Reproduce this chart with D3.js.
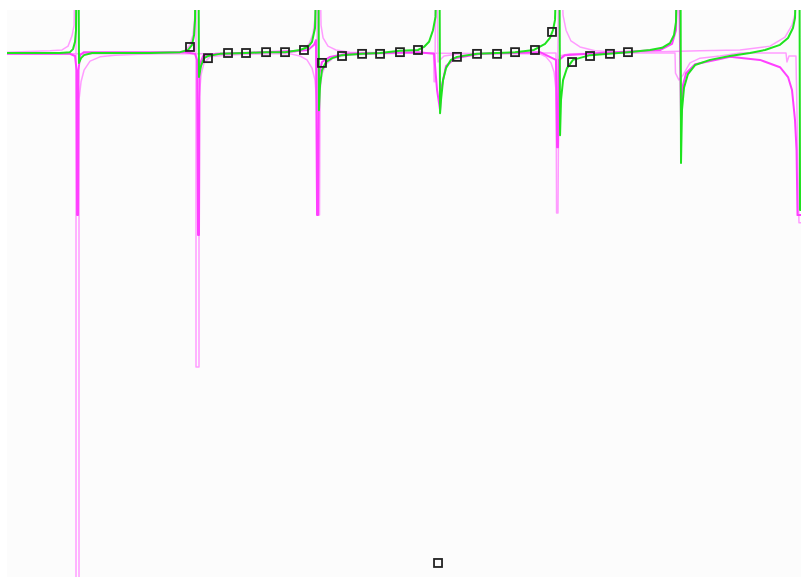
<!DOCTYPE html>
<html>
<head>
<meta charset="utf-8">
<script src="https://cdn.jsdelivr.net/npm/d3@7"></script>
<style>
  html, body { margin: 0; padding: 0; background: #ffffff; }
  svg { display: block; }
</style>
</head>
<body>
<div id="chart"></div>
<script>
// x: normalised frequency (resonances at integer values), y: response (baseline 0)
var TOP = 2, BOT = -12.5;

var greenCurve = [
  [-0.592, 0], [-0.15, 0], [-0.067, 0.02], [-0.042, 0.09], [-0.025, 0.26], [-0.017, 0.53],
  [-0.0125, TOP], [0.004, TOP], [0.008, -0.23], [0.025, -0.12], [0.05, -0.05], [0.117, 0],
  [0.6, 0], [0.85, 0.02], [0.917, 0.07], [0.95, 0.19], [0.967, 0.42], [0.975, 0.77],
  [0.979, TOP], [1.004, TOP], [1.008, -0.56], [1.025, -0.3], [1.05, -0.12], [1.083, -0.07], [1.183, -0.02],
  [1.4, 0], [1.567, 0.02], [1.725, 0.02], [1.85, 0.07], [1.917, 0.14], [1.95, 0.26], [1.975, 0.58],
  [1.9875, TOP], [2.004, TOP], [2.008, -1.33], [2.017, -0.74], [2.033, -0.4], [2.067, -0.21],
  [2.117, -0.12], [2.2, -0.05], [2.367, -0.02],
  [2.517, 0], [2.683, 0.05], [2.833, 0.07], [2.883, 0.14], [2.925, 0.26], [2.958, 0.53], [2.979, 0.84],
  [2.988, TOP], [3.0125, TOP], [3.017, -1.4], [3.025, -1.09], [3.042, -0.63], [3.067, -0.35],
  [3.108, -0.16], [3.158, -0.09], [3.325, -0.02], [3.492, 0],
  [3.642, 0.02], [3.8, 0.07], [3.892, 0.21], [3.933, 0.35], [3.958, 0.53], [3.975, 0.77],
  [3.9875, TOP], [4.0125, TOP], [4.017, -1.91], [4.025, -1.09], [4.042, -0.63], [4.075, -0.35],
  [4.125, -0.16], [4.267, -0.05], [4.583, 0.02],
  [4.767, 0.07], [4.867, 0.12], [4.933, 0.23], [4.967, 0.42], [4.983, 0.72],
  [4.992, TOP], [5.021, TOP], [5.025, -2.56], [5.033, -1.33], [5.05, -0.81], [5.083, -0.49],
  [5.142, -0.28], [5.267, -0.16], [5.433, -0.07], [5.6, 0], [5.725, 0.07], [5.85, 0.19],
  [5.917, 0.35], [5.958, 0.58], [5.975, 0.81],
  [5.988, TOP], [6.0125, TOP], [6.017, -3.65], [6.033, -3.65]
];

var magentaCurve = [
  [-0.592, -0.02], [-0.067, -0.02], [-0.025, -0.07], [-0.0125, -0.4], [-0.008, -3.77], [0, -3.77],
  [0.004, -0.4], [0.017, -0.05], [0.05, 0.02],
  [0.892, 0.02], [0.975, -0.02], [0.992, -0.16], [1.0, -4.23], [1.008, -4.23], [1.0125, -0.28],
  [1.042, -0.07], [1.142, -0.02],
  [1.85, 0.05], [1.917, 0.07], [1.967, 0.19], [1.983, 0.3], [1.992, -3.77], [2.0, -3.77],
  [2.008, -0.51], [2.033, -0.21], [2.1, -0.09], [2.225, -0.02],
  [2.833, 0.02], [2.967, -0.02], [2.992, -0.86], [3.017, -1.33], [3.025, -0.86], [3.067, -0.3],
  [3.142, -0.12], [3.35, -0.02],
  [3.85, 0.02], [3.983, -0.16], [3.992, -2.19], [4.0, -2.19], [4.008, -0.16], [4.058, -0.05], [4.35, 0],
  [4.85, 0.07], [4.95, 0.21], [4.983, 0.53], [4.996, TOP], [5.008, TOP], [5.025, -1.56],
  [5.042, -0.74], [5.067, -0.47], [5.142, -0.26], [5.35, -0.14], [5.433, -0.09], [5.683, -0.16],
  [5.85, -0.33], [5.917, -0.56], [5.95, -0.86], [5.975, -1.56], [5.988, -2.26], [5.996, -3.77],
  [6.004, -3.77], [6.033, -3.77]
];

var pinkCurveA = [
  [-0.592, 0.02], [-0.233, 0.05], [-0.133, 0.07], [-0.083, 0.16], [-0.05, 0.4], [-0.033, 0.65],
  [-0.025, TOP], [-0.017, TOP], [-0.017, BOT], [0.008, BOT], [0.008, -1.09], [0.025, -0.67],
  [0.05, -0.4], [0.1, -0.19], [0.183, -0.09], [0.308, -0.05], [0.6, -0.02],
  [0.85, 0.02], [0.9, 0.07], [0.933, 0.19], [0.958, 0.42], [0.975, 0.88], [0.979, TOP], [0.983, TOP],
  [0.983, -7.3], [1.008, -7.3], [1.008, -1.09], [1.025, -0.51], [1.05, -0.23], [1.1, -0.09], [1.225, -0.05],
  [1.808, 0.02], [1.875, 0.09], [1.925, 0.21], [1.958, 0.44], [1.975, 0.81], [1.983, TOP], [1.992, TOP],
  [1.992, -3.77], [2.0125, -3.77], [2.017, -0.86], [2.033, -0.49], [2.067, -0.26], [2.125, -0.12],
  [2.225, -0.05], [2.517, -0.02],
  [2.833, 0], [2.963, 0], [2.967, -0.67], [2.975, -0.67], [2.979, TOP], [2.9875, TOP], [3.0, -0.21],
  [3.05, -0.07], [3.183, -0.02],
  [3.85, 0], [3.983, 0], [3.988, -3.72], [4.0, -3.72], [4.008, -0.07], [4.1, -0.02],
  [4.683, 0], [4.975, 0], [4.979, -0.47], [5.008, -0.63], [5.042, -0.51], [5.1, -0.23], [5.183, -0.12],
  [5.35, -0.07], [5.517, 0], [5.9, 0], [5.908, -0.21], [5.925, -0.07], [5.983, -0.07],
  [6.008, -3.95], [6.033, -3.95]
];

var pinkCurveB = [
  [-0.592, -0.02], [1.767, -0.02], [1.85, -0.07], [1.908, -0.16], [1.95, -0.35], [1.975, -0.63],
  [1.988, -1.09], [1.992, -1.56], [2.008, TOP], [2.017, TOP], [2.025, 0.65], [2.042, 0.35],
  [2.083, 0.16], [2.15, 0.07], [2.267, 0.02], [2.683, 0],
  [3.85, -0.02], [3.9, -0.09], [3.942, -0.23], [3.967, -0.44], [3.983, -0.86], [3.992, -1.56],
  [4.008, TOP], [4.025, TOP], [4.042, 0.88], [4.067, 0.53], [4.108, 0.28], [4.183, 0.14],
  [4.308, 0.05], [4.517, 0.02],
  [4.683, 0.02], [5.183, 0.05], [5.517, 0.07], [5.767, 0.16], [5.892, 0.37], [5.95, 0.65],
  [5.975, 0.91], [5.983, TOP]
];

var markerX = [0.933, 1.083, 1.25, 1.4, 1.567, 1.725, 1.883, 2.033, 2.2, 2.367, 2.517, 2.683,
  2.833, 3.0, 3.158, 3.325, 3.492, 3.642, 3.808, 3.95, 4.117, 4.267, 4.433, 4.583];
var markerY = [0.14, -0.12, 0, 0, 0.02, 0.02, 0.07, -0.23, -0.07, -0.02, -0.02, 0.02,
  0.07, -11.86, -0.09, -0.02, -0.02, 0.02, 0.07, 0.49, -0.21, -0.07, -0.02, 0.02];

var width = 801, height = 577;
var margin = { left: 7, right: 0, top: 10, bottom: 0 };

var svg = d3.select('#chart').append('svg')
  .attr('width', width)
  .attr('height', height);

var xScale = d3.scaleLinear()
  .domain([-0.592, 6.025])
  .range([margin.left, width - margin.right]);
var yScale = d3.scaleLinear()
  .domain([-12.186, 1])
  .range([height - margin.bottom, margin.top]);

svg.append('defs').append('clipPath')
  .attr('id', 'plot-clip')
  .append('rect')
  .attr('x', margin.left)
  .attr('y', margin.top)
  .attr('width', width - margin.left - margin.right)
  .attr('height', height - margin.top - margin.bottom);

svg.append('rect')
  .attr('x', margin.left)
  .attr('y', margin.top)
  .attr('width', width - margin.left - margin.right)
  .attr('height', height - margin.top - margin.bottom)
  .attr('fill', '#fcfcfc');

var line = d3.line()
  .x(function (d) { return xScale(d[0]); })
  .y(function (d) { return yScale(d[1]); });

var g = svg.append('g').attr('clip-path', 'url(#plot-clip)');

var series = [
  { data: pinkCurveB, color: '#ff9cff', width: 1.5 },
  { data: pinkCurveA, color: '#ff9cff', width: 1.5 },
  { data: magentaCurve, color: '#ff40ff', width: 2 },
  { data: greenCurve, color: '#1fe31f', width: 2 }
];

series.forEach(function (s) {
  g.append('path')
    .datum(s.data)
    .attr('fill', 'none')
    .attr('stroke', s.color)
    .attr('stroke-width', s.width)
    .attr('stroke-linejoin', 'round')
    .attr('d', line);
});

var markers = markerX.map(function (x, i) { return [x, markerY[i]]; });
g.selectAll('.marker')
  .data(markers)
  .enter().append('rect')
  .attr('class', 'marker')
  .attr('x', function (d) { return xScale(d[0]) - 4; })
  .attr('y', function (d) { return yScale(d[1]) - 4; })
  .attr('width', 8)
  .attr('height', 8)
  .attr('fill', 'none')
  .attr('stroke', '#222')
  .attr('stroke-width', 1.8);
</script>
</body>
</html>
